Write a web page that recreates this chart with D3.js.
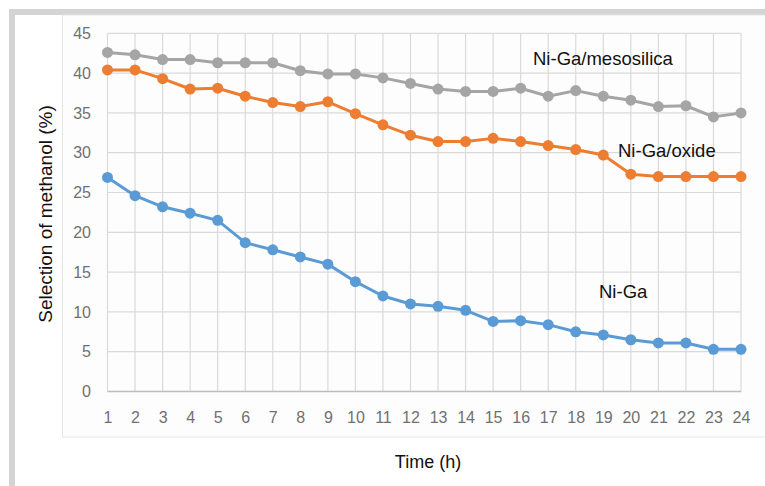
<!DOCTYPE html>
<html><head><meta charset="utf-8">
<script src="https://cdn.jsdelivr.net/npm/d3@7/dist/d3.min.js"></script>
<style>html,body{margin:0;padding:0;background:#fff;}svg{display:block;}</style>
</head><body>
<script>
const hours = d3.range(1, 25);
const yTicks = [0, 5, 10, 15, 20, 25, 30, 35, 40, 45];
const seriesNames = ["Ni-Ga/mesosilica", "Ni-Ga/oxide", "Ni-Ga"];
const mesosilica = [42.6, 42.3, 41.7, 41.7, 41.3, 41.3, 41.3, 40.3, 39.9, 39.9, 39.4, 38.7, 38.0, 37.7, 37.7, 38.1, 37.1, 37.8, 37.1, 36.6, 35.8, 35.9, 34.5, 35.0];
const oxide = [40.4, 40.4, 39.3, 38.0, 38.1, 37.1, 36.3, 35.8, 36.4, 34.9, 33.5, 32.2, 31.4, 31.4, 31.8, 31.4, 30.9, 30.4, 29.7, 27.3, 27.0, 27.0, 27.0, 27.0];
const niga = [26.9, 24.6, 23.2, 22.4, 21.5, 18.7, 17.8, 16.9, 16.0, 13.8, 12.0, 11.0, 10.7, 10.2, 8.8, 8.9, 8.4, 7.5, 7.1, 6.5, 6.1, 6.1, 5.3, 5.3];
const colors = ["#a5a5a5", "#ed7d31", "#5b9bd5"];

const W = 765, H = 486;
const svg = d3.select("body").append("svg").attr("width", W).attr("height", H);

// outer frame
svg.append("rect").attr("x", 9).attr("y", 9).attr("width", W).attr("height", 6).attr("fill", "#d4d4d4");
svg.append("rect").attr("x", 9).attr("y", 9).attr("width", 6).attr("height", H).attr("fill", "#d4d4d4");
// inner chart frame
svg.append("rect").attr("x", 62.5).attr("y", 15).attr("width", 720).attr("height", 422)
  .attr("fill", "#fdfdfd").attr("stroke", "#e6e6e6").attr("stroke-width", 1);

const x = d3.scalePoint().domain(hours).range([107.5, 741]);
const y = d3.scaleLinear().domain([0, 45]).range([391.5, 33.3]);

// gridlines
const g = svg.append("g");
g.selectAll(".hg").data(yTicks.filter(d => d > 0)).join("line")
  .attr("x1", 107.5).attr("x2", 741).attr("y1", d => y(d)).attr("y2", d => y(d))
  .attr("stroke", "#dadada").attr("stroke-width", 1.2);
g.selectAll(".vg").data(hours).join("line")
  .attr("x1", d => x(d)).attr("x2", d => x(d)).attr("y1", y(45)).attr("y2", y(0))
  .attr("stroke", "#dadada").attr("stroke-width", 1.2);
g.append("line").attr("x1", 107.5).attr("x2", 741).attr("y1", y(0)).attr("y2", y(0))
  .attr("stroke", "#bcbcbc").attr("stroke-width", 1.5);

// axes
const yAxis = svg.append("g").attr("transform", "translate(91,0)")
  .call(d3.axisLeft(y).tickValues(yTicks).tickSize(0).tickPadding(0));
yAxis.select(".domain").remove();
yAxis.selectAll("text").attr("font-family", "Liberation Sans, Arial, sans-serif").attr("font-size", 16).attr("fill", "#707070");

const xAxis = svg.append("g").attr("transform", `translate(0,${y(0)})`)
  .call(d3.axisBottom(x).tickSize(0).tickPadding(20));
xAxis.select(".domain").remove();
xAxis.selectAll("text").attr("font-family", "Liberation Sans, Arial, sans-serif").attr("font-size", 16).attr("fill", "#707070");

// series
const data = [mesosilica, oxide, niga];
const line = d3.line().x((d, i) => x(hours[i])).y(d => y(d));
data.forEach((s, k) => {
  svg.append("path").datum(s).attr("d", line).attr("fill", "none")
    .attr("stroke", colors[k]).attr("stroke-width", 3).attr("stroke-linejoin", "round");
  svg.append("g").selectAll("circle").data(s).join("circle")
    .attr("cx", (d, i) => x(hours[i])).attr("cy", d => y(d)).attr("r", 5.5)
    .attr("fill", colors[k]);
});

// annotations
const ann = [[533, 65], [618, 157], [599, 298]];
seriesNames.forEach((n, k) => {
  svg.append("text").attr("x", ann[k][0]).attr("y", ann[k][1]).text(n)
    .attr("font-family", "Liberation Sans, Arial, sans-serif").attr("font-size", 18.5).attr("fill", "#111");
});

// axis titles
svg.append("text").attr("x", 428).attr("y", 468).attr("text-anchor", "middle").text("Time (h)")
  .attr("font-family", "Liberation Sans, Arial, sans-serif").attr("font-size", 18).attr("fill", "#111");
svg.append("text").attr("transform", "translate(52,214) rotate(-90)").attr("text-anchor", "middle")
  .text("Selection of methanol (%)")
  .attr("font-family", "Liberation Sans, Arial, sans-serif").attr("font-size", 19).attr("fill", "#111");
</script>
</body></html>
